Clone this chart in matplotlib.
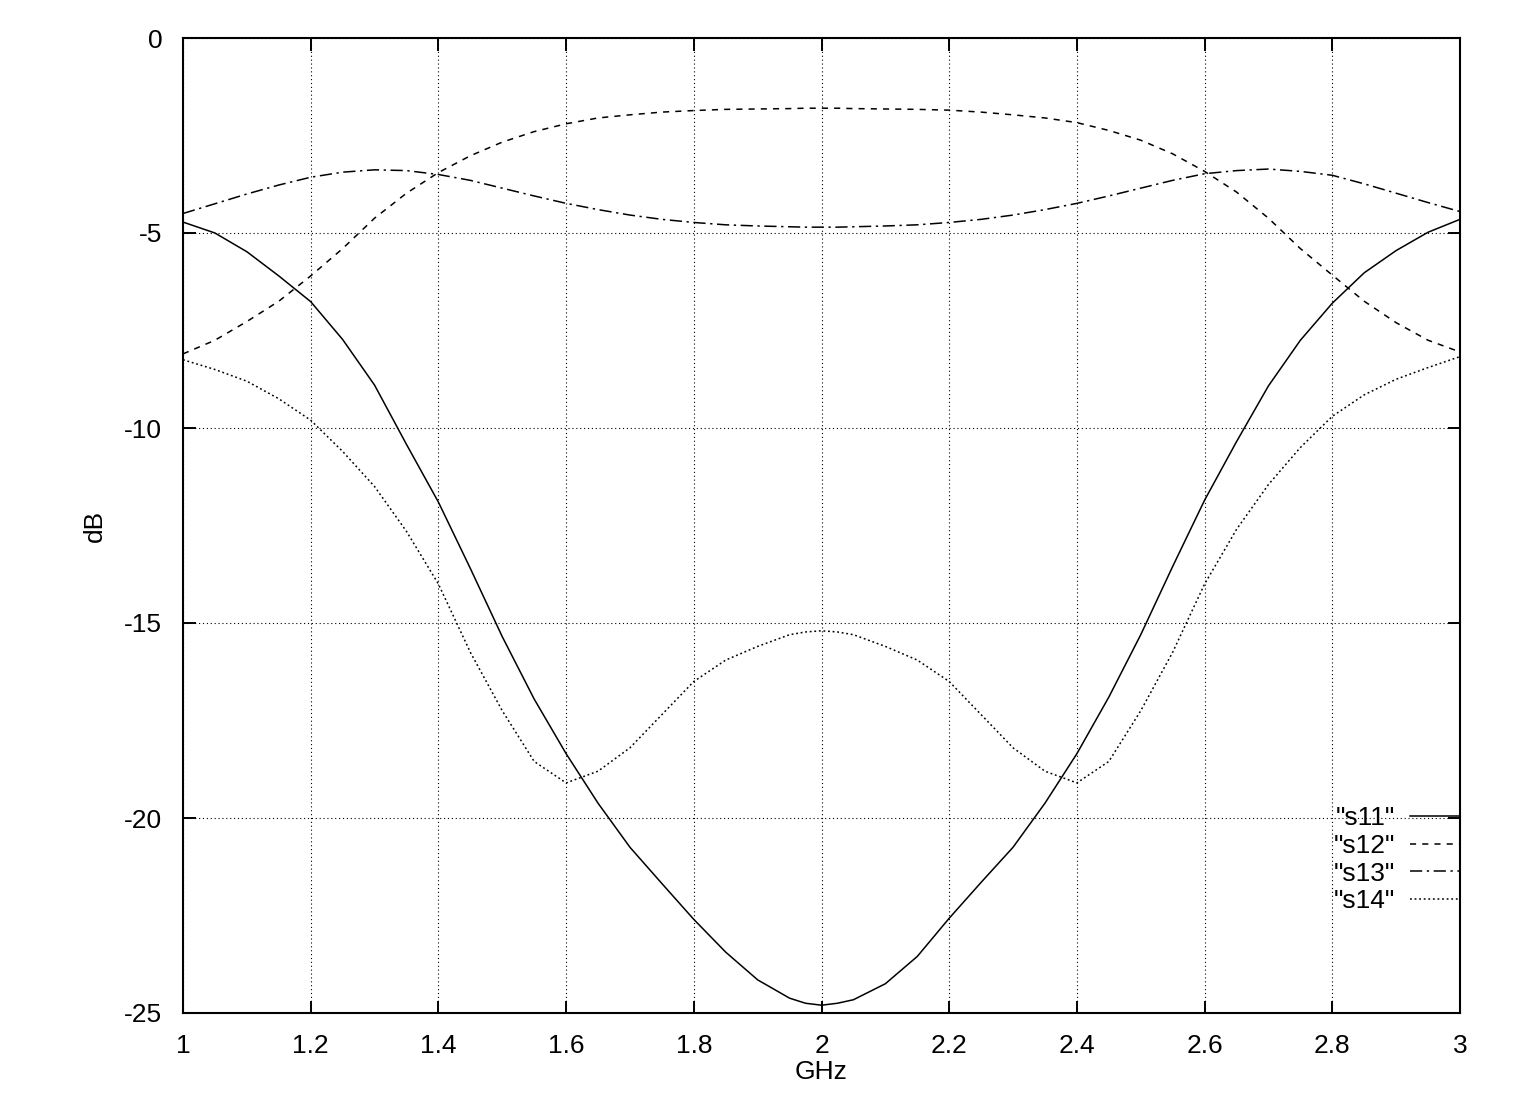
import matplotlib
matplotlib.use("Agg")
import matplotlib.pyplot as plt

# frequency points (GHz)
freq = [1.00, 1.05, 1.10, 1.15, 1.20, 1.25, 1.30, 1.35, 1.40, 1.45,
        1.50, 1.55, 1.60, 1.65, 1.70, 1.75, 1.80, 1.85, 1.90, 1.95, 1.975,
        2.00, 2.025, 2.05, 2.10, 2.15, 2.20, 2.25, 2.30, 2.35, 2.40, 2.45,
        2.50, 2.55, 2.60, 2.65, 2.70, 2.75, 2.80, 2.85, 2.90, 2.95, 3.00]

# (dB)
s11 = [-4.72, -5.00, -5.48, -6.10, -6.76, -7.73, -8.90, -10.42, -11.90, -13.60,
       -15.35, -16.95, -18.35, -19.62, -20.75, -21.68, -22.60, -23.44, -24.15, -24.62, -24.75,
       -24.80, -24.75, -24.66, -24.25, -23.55, -22.57, -21.65, -20.75, -19.62, -18.35, -16.90,
       -15.30, -13.55, -11.85, -10.35, -8.92, -7.75, -6.80, -6.02, -5.45, -4.98, -4.65]

s12 = [-8.10, -7.75, -7.27, -6.75, -6.10, -5.40, -4.62, -3.98, -3.45, -3.02,
       -2.67, -2.40, -2.20, -2.05, -1.97, -1.90, -1.86, -1.83, -1.82, -1.81, -1.80,
       -1.80, -1.80, -1.81, -1.82, -1.83, -1.85, -1.90, -1.97, -2.05, -2.17, -2.37,
       -2.62, -2.97, -3.42, -3.95, -4.62, -5.40, -6.08, -6.75, -7.30, -7.75, -8.05]

s13 = [-4.50, -4.25, -4.00, -3.77, -3.57, -3.44, -3.38, -3.40, -3.50, -3.65,
       -3.85, -4.05, -4.24, -4.40, -4.54, -4.65, -4.73, -4.79, -4.82, -4.84, -4.85,
       -4.85, -4.85, -4.84, -4.82, -4.79, -4.73, -4.65, -4.54, -4.40, -4.24, -4.05,
       -3.85, -3.65, -3.48, -3.40, -3.36, -3.42, -3.52, -3.74, -3.98, -4.22, -4.45]

s14 = [-8.25, -8.50, -8.80, -9.25, -9.80, -10.60, -11.50, -12.65, -14.00, -15.75,
       -17.25, -18.55, -19.10, -18.80, -18.20, -17.35, -16.50, -15.95, -15.60, -15.30, -15.23,
       -15.20, -15.23, -15.30, -15.60, -15.95, -16.50, -17.35, -18.20, -18.80, -19.10, -18.55,
       -17.25, -15.75, -14.00, -12.60, -11.45, -10.50, -9.70, -9.15, -8.75, -8.45, -8.17]

xticks = [1, 1.2, 1.4, 1.6, 1.8, 2, 2.2, 2.4, 2.6, 2.8, 3]
xlabels = ["1", "1.2", "1.4", "1.6", "1.8", "2", "2.2", "2.4", "2.6", "2.8", "3"]
yticks = [0, -5, -10, -15, -20, -25]

plt.rcParams['font.family'] = ['Liberation Sans', 'DejaVu Sans']
plt.rcParams['axes.unicode_minus'] = False

fs = 19
fig = plt.figure(figsize=(15.17, 11.16), dpi=100)
ax = fig.add_axes([183/1517, 1 - 1013/1116, (1460-183)/1517, (1013-38)/1116])

lw = 1.1
ax.plot(freq, s11, color='black', lw=lw, linestyle='-', label='"s11"')
ax.plot(freq, s12, color='black', lw=lw, linestyle=(0, (4, 4)), label='"s12"')
ax.plot(freq, s13, color='black', lw=lw, linestyle=(0, (8, 3, 1.5, 3)), label='"s13"')
ax.plot(freq, s14, color='black', lw=lw, linestyle=(0, (1.2, 1.8)), label='"s14"')

ax.set_xlim(1, 3)
ax.set_ylim(-25, 0)
ax.set_xticks(xticks)
ax.set_xticklabels(xlabels)
ax.set_yticks(yticks)
ax.grid(True, color='black', linestyle=(0, (1, 2.5)), linewidth=0.8)

ax.tick_params(direction='in', length=9, width=1.4, top=True, right=True,
               labelsize=fs)
ax.tick_params(axis='y', pad=15)
ax.tick_params(axis='x', pad=15)
for sp in ax.spines.values():
    sp.set_linewidth(1.5)

ax.set_xlabel("GHz", fontsize=fs, va='center')
ax.xaxis.set_label_coords(0.5, -0.0605)
ax.set_ylabel("dB", fontsize=fs, va='center')
ax.yaxis.set_label_coords(-0.069, 0.5)

ax.legend(loc='upper right', bbox_to_anchor=(1.0, 0.212), frameon=False,
          markerfirst=False, fontsize=fs, handlelength=1.9, handletextpad=0.55,
          labelspacing=0.14, borderaxespad=0, borderpad=0)

fig.savefig("out.png", dpi=100)
